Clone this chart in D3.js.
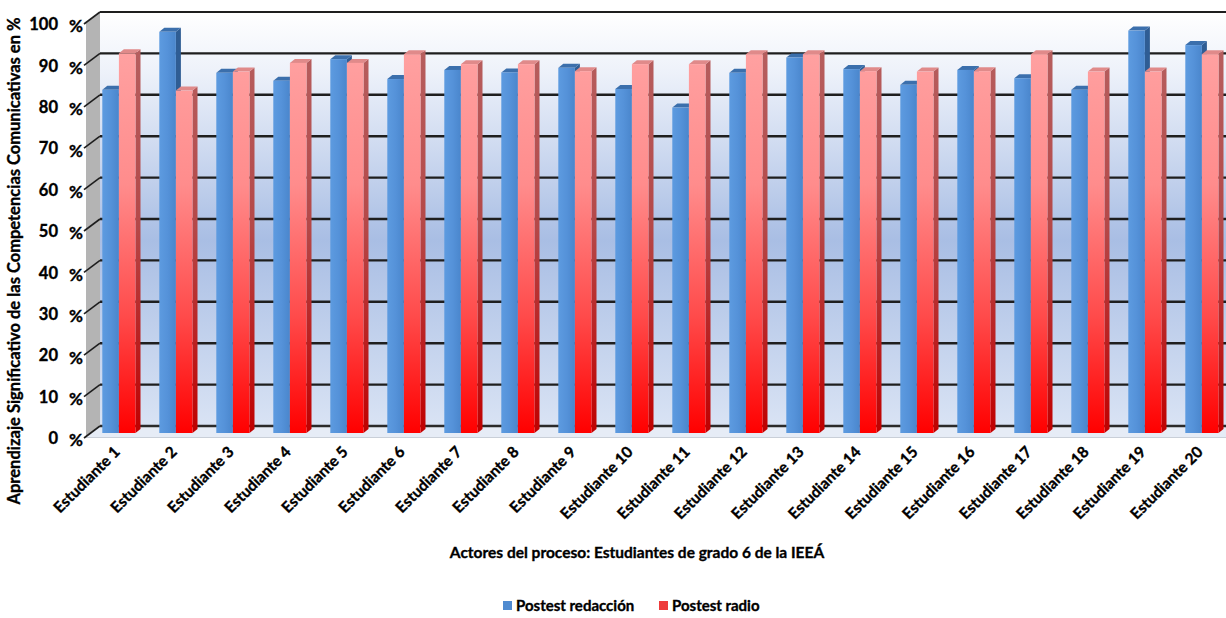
<!DOCTYPE html>
<html>
<head>
<meta charset="utf-8">
<script src="https://cdn.jsdelivr.net/npm/d3@7"></script>
<style>
  html, body { margin: 0; padding: 0; background: #ffffff; }
  svg text { font-family: Lato, "Open Sans", sans-serif; font-weight: 700; fill: #000; stroke: #000; stroke-width: 0.35px; }
</style>
</head>
<body>
<svg id="chart" width="1226" height="618"></svg>
<script>
// Estudiantes de grado 6 y sus resultados (%)
const categories = [
  "Estudiante 1", "Estudiante 2", "Estudiante 3", "Estudiante 4", "Estudiante 5",
  "Estudiante 6", "Estudiante 7", "Estudiante 8", "Estudiante 9", "Estudiante 10",
  "Estudiante 11", "Estudiante 12", "Estudiante 13", "Estudiante 14", "Estudiante 15",
  "Estudiante 16", "Estudiante 17", "Estudiante 18", "Estudiante 19", "Estudiante 20"
];
const postestRedaccion = [82.9, 96.9, 87.0, 85.1, 90.3, 85.5, 87.7, 87.1, 88.2, 83.1,
                          78.6, 87.0, 90.7, 87.9, 84.1, 87.7, 85.7, 82.9, 97.2, 93.7];
const postestRadio     = [91.7, 82.7, 87.3, 89.4, 89.4, 91.5, 89.1, 89.1, 87.4, 89.1,
                          89.1, 91.5, 91.5, 87.4, 87.3, 87.4, 91.5, 87.3, 87.3, 91.5];
const seriesNames = ["Postest redacción", "Postest radio"];
const yTicks = [0, 10, 20, 30, 40, 50, 60, 70, 80, 90, 100];
const yTitle = "Aprendizaje Significativo de las Competencias Comunicativas en %";
const xTitle = "Actores del proceso: Estudiantes de grado 6 de la IEEÁ";

const svg = d3.select("#chart");
const defs = svg.append("defs");

// oblique depth of the plot box (back wall vs. front edge)
const wallDX = 14, wallDY = 11;
const backLeft = 100, backRight = 1226;

// back wall scale and front (bar) plane scale
const yBack = d3.scaleLinear().domain([0, 100]).range([426, 12]);
const yFront = d3.scaleLinear().domain([0, 100]).range([433, 19]);

const step = 57, innerPad = 0.4175;
const x0 = 102.3;
const x = d3.scaleBand().domain(categories)
  .range([x0, x0 + step * (categories.length - innerPad)])
  .paddingInner(innerPad).paddingOuter(0);
const xSub = d3.scaleBand().domain(seriesNames).range([0, x.bandwidth()]);

// gradients
const wallGrad = defs.append("linearGradient").attr("id", "wallGrad")
  .attr("gradientUnits", "userSpaceOnUse").attr("x1", 0).attr("x2", 0)
  .attr("y1", yBack(100)).attr("y2", yBack(0));
[[0, "#ffffff"], [0.14, "#eef2fa"], [0.55, "#a9bee4"], [1, "#d9e3f4"]].forEach(([o, c]) =>
  wallGrad.append("stop").attr("offset", o).attr("stop-color", c));

const redGrad = defs.append("linearGradient").attr("id", "redGrad")
  .attr("gradientUnits", "userSpaceOnUse").attr("x1", 0).attr("x2", 0)
  .attr("y1", yFront(100)).attr("y2", yFront(0));
[[0, "#ffa6a6"], [0.4, "#ff8c8c"], [0.72, "#ff4a4a"], [1, "#ff0000"]].forEach(([o, c]) =>
  redGrad.append("stop").attr("offset", o).attr("stop-color", c));

const redSideGrad = defs.append("linearGradient").attr("id", "redSideGrad")
  .attr("gradientUnits", "userSpaceOnUse").attr("x1", 0).attr("x2", 0)
  .attr("y1", yFront(100)).attr("y2", yFront(0));
[[0, "#b66262"], [0.5, "#b54848"], [1, "#c00000"]].forEach(([o, c]) =>
  redSideGrad.append("stop").attr("offset", o).attr("stop-color", c));

const blueGrad = defs.append("linearGradient").attr("id", "blueGrad")
  .attr("x1", 0).attr("x2", 1).attr("y1", 0).attr("y2", 0);
[[0, "#5d9be0"], [0.5, "#5592d9"], [1, "#4a86cc"]].forEach(([o, c]) =>
  blueGrad.append("stop").attr("offset", o).attr("stop-color", c));

// side wall (left)
svg.append("path")
  .attr("d", `M${backLeft - wallDX},${yBack(100) + wallDY} L${backLeft},${yBack(100)} L${backLeft},${yBack(0)} L${backLeft - wallDX},${yBack(0) + wallDY} Z`)
  .attr("fill", "#b4b4b4");

// back wall
svg.append("rect")
  .attr("x", backLeft).attr("y", yBack(100))
  .attr("width", backRight - backLeft).attr("height", yBack(0) - yBack(100))
  .attr("fill", "url(#wallGrad)");

// floor
svg.append("path")
  .attr("d", `M${backLeft},${yBack(0)} L${backRight},${yBack(0)} L${backRight},${yBack(0) + wallDY} L${backLeft - wallDX},${yBack(0) + wallDY} Z`)
  .attr("fill", "#e6ecf6");
svg.append("line")
  .attr("x1", backLeft - wallDX).attr("x2", backRight)
  .attr("y1", yBack(0) + wallDY + 0.5).attr("y2", yBack(0) + wallDY + 0.5)
  .attr("stroke", "#c9cfd8").attr("stroke-width", 1.2);

// gridlines on back wall + oblique ticks on the side wall
const grid = svg.append("g");
grid.selectAll("line.h").data(yTicks).join("line").attr("class", "h")
  .attr("x1", backLeft).attr("x2", backRight)
  .attr("y1", d => yBack(d)).attr("y2", d => yBack(d))
  .attr("stroke", d => d === 0 ? "#2a2a2a" : "#1e1e1e")
  .attr("stroke-width", d => d === 100 ? 2 : 2.4);
grid.selectAll("line.s").data(yTicks).join("line").attr("class", "s")
  .attr("x1", backLeft - wallDX - 2).attr("x2", backLeft)
  .attr("y1", d => yBack(d) + wallDY + 1).attr("y2", d => yBack(d))
  .attr("stroke", "#1e1e1e").attr("stroke-width", 1.6);

// y tick labels
const yl = svg.append("g");
yl.selectAll("text.n").data(yTicks).join("text").attr("class", "n")
  .attr("x", 58).attr("y", d => yBack(d) + wallDY + 3)
  .attr("text-anchor", "end").attr("dominant-baseline", "middle")
  .attr("font-size", 16.5).text(d => d);
yl.selectAll("text.p").data(yTicks).join("text").attr("class", "p")
  .attr("x", 69).attr("y", d => yBack(d) + wallDY + 5)
  .attr("text-anchor", "start").attr("dominant-baseline", "middle")
  .attr("font-size", 17).text("%");

// 3D columns
const capDX = 5, capDY = 4;
const rows = categories.map((c, i) => ({ c, v: [postestRedaccion[i], postestRadio[i]] }));
const bars = [];
rows.forEach(r => seriesNames.forEach((s, j) => bars.push({ c: r.c, s, j, v: r.v[j] })));

const barG = svg.append("g");
const groups = barG.selectAll("g").data(bars).join("g");
const w = xSub.bandwidth();
function bx(d) { return x(d.c) + xSub(d.s); }

// side face
groups.append("path")
  .attr("d", d => {
    const l = bx(d) + w, t = yFront(d.v), b = yFront(0);
    return `M${l},${t} L${l + capDX},${t - capDY} L${l + capDX},${b - capDY} L${l},${b} Z`;
  })
  .attr("fill", d => d.j === 0 ? "#2f5d94" : "url(#redSideGrad)");
// top face
groups.append("path")
  .attr("d", d => {
    const l = bx(d), t = yFront(d.v);
    return `M${l},${t} L${l + capDX},${t - capDY} L${l + w + capDX},${t - capDY} L${l + w},${t} Z`;
  })
  .attr("fill", d => d.j === 0 ? "#3b6fac" : "#e08a8a");
// front face
groups.append("rect")
  .attr("x", d => bx(d)).attr("y", d => yFront(d.v))
  .attr("width", w).attr("height", d => yFront(0) - yFront(d.v))
  .attr("fill", d => d.j === 0 ? "url(#blueGrad)" : "url(#redGrad)");

// x tick labels
svg.append("g").selectAll("text").data(categories).join("text")
  .attr("transform", d => `translate(${x(d) + x.bandwidth() / 2 + 2},${453}) rotate(-45)`)
  .attr("text-anchor", "end").attr("font-size", 15.5).text(d => d);

// axis titles
svg.append("text")
  .attr("transform", `translate(20,${261}) rotate(-90)`)
  .attr("text-anchor", "middle").attr("font-size", 16.5).text(yTitle);
svg.append("text")
  .attr("x", 637).attr("y", 558)
  .attr("text-anchor", "middle").attr("font-size", 15.5).text(xTitle);

// legend
const legend = svg.append("g");
const legItems = [
  { name: seriesNames[0], color: "#4f8bd0", x: 503 },
  { name: seriesNames[1], color: "#ee3b3b", x: 659 }
];
legend.selectAll("rect").data(legItems).join("rect")
  .attr("x", d => d.x).attr("y", 601).attr("width", 9).attr("height", 9)
  .attr("fill", d => d.color);
legend.selectAll("text").data(legItems).join("text")
  .attr("x", d => d.x + 13).attr("y", 611)
  .attr("font-size", 15).text(d => d.name);
</script>
</body>
</html>
